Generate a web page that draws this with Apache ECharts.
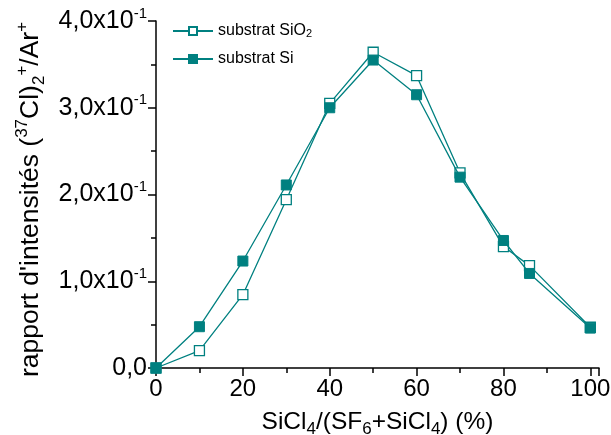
<!DOCTYPE html>
<html>
<head>
<meta charset="utf-8">
<script src="https://cdn.jsdelivr.net/npm/echarts@6/dist/echarts.min.js"></script>
<style>html,body{margin:0;padding:0;background:#fff;}#c{width:611px;height:435px;}</style>
</head>
<body>
<div id="c"></div>
<script>
const xValues = [0, 10, 20, 30, 40, 50, 60, 70, 80, 86, 100];
const sio2Values = [0, 0.020, 0.0845, 0.194, 0.305, 0.364, 0.337, 0.225, 0.140, 0.118, 0.047];
const siValues = [0, 0.0476, 0.1233, 0.211, 0.300, 0.355, 0.315, 0.220, 0.147, 0.109, 0.046];
const seriesNames = ['substrat SiO2', 'substrat Si'];
const xTickLabels = ['0', '20', '40', '60', '80', '100'];
const yTickLabels = ['0,0', '1,0x10{sup|-1}', '2,0x10{sup|-1}', '3,0x10{sup|-1}', '4,0x10{sup|-1}'];

const teal = '#008080';
const FONT = 'Liberation Sans, Arial, sans-serif';
const chart = echarts.init(document.getElementById('c'), null, {renderer: 'canvas'});

const mk = (xs, ys) => xs.map((x, i) => [x, ys[i]]);

chart.setOption({
  animation: false,
  backgroundColor: '#ffffff',
  textStyle: {fontFamily: FONT},
  grid: {left: 156, right: 12, top: 21, bottom: 67, containLabel: false, outerBoundsMode: 'none'},
  legend: {
    orient: 'vertical',
    left: 167,
    top: 15,
    itemWidth: 40,
    itemHeight: 10,
    itemGap: 12,
    data: seriesNames,
    formatter: n => n === 'substrat SiO2' ? 'substrat SiO{sub|2}' : n,
    textStyle: {
      fontFamily: FONT, fontSize: 16, color: '#000',
      rich: {sub: {fontSize: 11, verticalAlign: 'bottom', lineHeight: 14, padding: [8, 0, 0, 0]}}
    }
  },
  xAxis: {
    type: 'value',
    min: 0, max: 102, interval: 20,
    name: 'SiCl{sub|4}/(SF{sub|6}+SiCl{sub|4}) (%)',
    nameLocation: 'middle',
    nameGap: 26,
    nameTextStyle: {
      fontFamily: FONT, fontSize: 24.5, lineHeight: 32, color: '#000',
      rich: {sub: {fontSize: 17, lineHeight: 17, verticalAlign: 'bottom'}}
    },
    axisLine: {show: true, onZero: false, lineStyle: {color: '#000', width: 1.5}},
    axisTick: {show: true, inside: false, length: 8, lineStyle: {color: '#000', width: 1.5}},
    minorTick: {show: true, splitNumber: 2, length: 5, lineStyle: {color: '#000', width: 1.5}},
    axisLabel: {
      margin: 9, fontFamily: FONT, fontSize: 24, color: '#000',
      formatter: v => { const i = Math.round(v / 20); return (Math.abs(v - i * 20) < 1e-6 && i < xTickLabels.length) ? xTickLabels[i] : ''; }
    },
    splitLine: {show: false}
  },
  yAxis: {
    type: 'value',
    min: 0, max: 0.4, interval: 0.1,
    name: "rapport d'intensités ({sup|37}Cl){sub|2}{sup|+}/Ar{sup|+}",
    nameLocation: 'middle',
    nameRotate: 90,
    nameGap: 103,
    nameTextStyle: {
      fontFamily: FONT, fontSize: 26.5, lineHeight: 34, color: '#000',
      padding: [0, 10, 0, 0],
      rich: {
        sup: {fontSize: 17, lineHeight: 17, verticalAlign: 'top'},
        sub: {fontSize: 17, lineHeight: 17, verticalAlign: 'bottom'}
      }
    },
    axisLine: {show: true, lineStyle: {color: '#000', width: 1.5}},
    axisTick: {show: true, inside: false, length: 8, lineStyle: {color: '#000', width: 1.5}},
    minorTick: {show: true, splitNumber: 2, length: 5, lineStyle: {color: '#000', width: 1.5}},
    axisLabel: {
      margin: 9, fontFamily: FONT, fontSize: 25, lineHeight: 30, color: '#000',
      formatter: v => yTickLabels[Math.round(v / 0.1)] || '',
      rich: {sup: {fontSize: 15, lineHeight: 15, verticalAlign: 'top'}}
    },
    splitLine: {show: false}
  },
  series: [
    {
      name: seriesNames[0],
      type: 'line',
      data: mk(xValues, sio2Values),
      symbol: 'rect',
      symbolSize: 10,
      lineStyle: {color: teal, width: 1.3},
      itemStyle: {color: '#fff', borderColor: teal, borderWidth: 1.3},
      z: 2
    },
    {
      name: seriesNames[1],
      type: 'line',
      data: mk(xValues, siValues),
      symbol: 'rect',
      symbolSize: 10,
      lineStyle: {color: teal, width: 1.3},
      itemStyle: {color: teal, borderColor: teal, borderWidth: 1},
      z: 3
    }
  ]
});
</script>
</body>
</html>
